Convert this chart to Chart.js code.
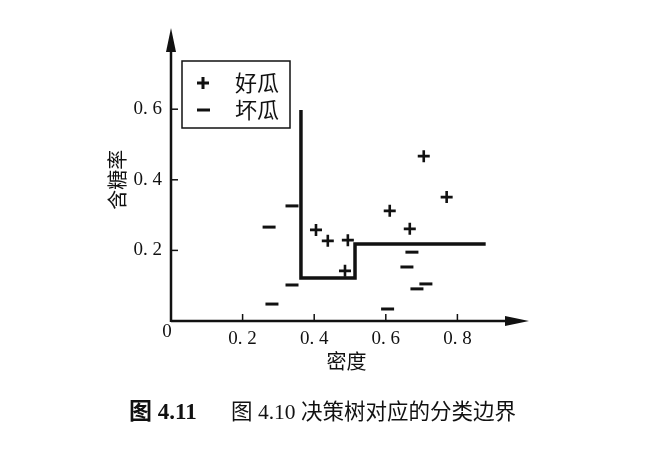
<!DOCTYPE html>
<html><head><meta charset="utf-8">
<script src="https://cdn.jsdelivr.net/npm/chart.js@4/dist/chart.umd.min.js"></script>
<style>html,body{margin:0;padding:0;background:#fff;}#wrap{width:667px;height:456px;position:relative;}</style>
</head><body><div id="wrap"><canvas id="c" width="667" height="456"></canvas></div>
<script>
const goodX = [0.405, 0.438, 0.494, 0.486, 0.611, 0.667, 0.706, 0.770];
const goodY = [0.258, 0.227, 0.229, 0.142, 0.312, 0.261, 0.467, 0.351];
const badX = [0.274, 0.338, 0.282, 0.338, 0.605, 0.673, 0.659, 0.687, 0.712];
const badY = [0.266, 0.326, 0.048, 0.102, 0.034, 0.195, 0.153, 0.091, 0.105];
const boundaryX = [0.363, 0.363, 0.514, 0.514, 0.879];
const boundaryY = [0.598, 0.122, 0.122, 0.218, 0.218];
const xTicks = [0.2, 0.4, 0.6, 0.8];
const xTickLabels = ['0. 2', '0. 4', '0. 6', '0. 8'];
const yTicks = [0.2, 0.4, 0.6];
const yTickLabels = ['0. 2', '0. 4', '0. 6'];
const legendLabels = ['好瓜', '坏瓜'];
const xTitle = '密度';
const yTitle = '含糖率';
const captionBold = '图 4.11';
const captionText = '图 4.10 决策树对应的分类边界';

const ink = '#111';
const serif = "'Liberation Serif', 'Noto Sans CJK SC', serif";
const cjk = "'Noto Sans CJK SC', sans-serif";

const toPts = (xs, ys) => xs.map((x, i) => ({x, y: ys[i]}));

const deco = {
  id: 'deco',
  beforeDatasetsDraw(chart) {
    const {ctx, chartArea: a, scales: {x, y}} = chart;
    const ox = x.getPixelForValue(0), oy = y.getPixelForValue(0);
    ctx.save();
    ctx.strokeStyle = ink; ctx.fillStyle = ink; ctx.lineWidth = 2.5;
    // axes
    ctx.beginPath(); ctx.moveTo(ox, oy); ctx.lineTo(a.right - 10, oy); ctx.stroke();
    ctx.beginPath(); ctx.moveTo(ox, oy + 1); ctx.lineTo(ox, a.top + 10); ctx.stroke();
    // arrowheads
    ctx.beginPath(); ctx.moveTo(a.right, oy); ctx.lineTo(a.right - 24, oy - 5); ctx.lineTo(a.right - 24, oy + 5); ctx.closePath(); ctx.fill();
    ctx.beginPath(); ctx.moveTo(ox, a.top); ctx.lineTo(ox - 5, a.top + 24); ctx.lineTo(ox + 5, a.top + 24); ctx.closePath(); ctx.fill();
    // inward ticks
    ctx.lineWidth = 1.5;
    xTicks.forEach(v => { const px = x.getPixelForValue(v); ctx.beginPath(); ctx.moveTo(px, oy); ctx.lineTo(px, oy - 7); ctx.stroke(); });
    yTicks.forEach(v => { const py = y.getPixelForValue(v); ctx.beginPath(); ctx.moveTo(ox, py); ctx.lineTo(ox + 7, py); ctx.stroke(); });
    // origin label
    ctx.font = '19px ' + serif; ctx.textAlign = 'center'; ctx.textBaseline = 'middle';
    ctx.fillText('0', ox - 4, oy + 11);
    // axis titles
    ctx.font = '20px ' + cjk;
    ctx.fillText(xTitle, x.getPixelForValue(0.49), oy + 40);
    ctx.save(); ctx.translate(ox - 54, y.getPixelForValue(0.40)); ctx.rotate(-Math.PI / 2);
    ctx.fillText(yTitle, 0, 0); ctx.restore();
    // legend box
    ctx.lineWidth = 1.5;
    ctx.strokeRect(182, 61, 108, 67);
    ctx.lineWidth = 3;
    ctx.beginPath(); ctx.moveTo(197, 83); ctx.lineTo(209, 83); ctx.moveTo(203, 77); ctx.lineTo(203, 89); ctx.stroke();
    ctx.beginPath(); ctx.moveTo(197, 110); ctx.lineTo(210, 110); ctx.stroke();
    ctx.font = '22px ' + cjk; ctx.textAlign = 'center';
    ctx.fillText(legendLabels[0], 257, 83);
    ctx.fillText(legendLabels[1], 257, 110);
    // caption
    ctx.textAlign = 'left';
    ctx.font = 'bold 23px ' + serif;
    ctx.fillText(captionBold, 129, 413);
    ctx.font = '21.5px ' + serif;
    ctx.fillText(captionText, 231, 413);
    ctx.restore();
  }
};

new Chart(document.getElementById('c'), {
  type: 'scatter',
  data: {
    datasets: [
      {label: legendLabels[0], data: toPts(goodX, goodY), pointStyle: 'cross', radius: 6, borderColor: ink, borderWidth: 2.6, pointHoverRadius: 6},
      {label: legendLabels[1], data: toPts(badX, badY), pointStyle: 'line', radius: 6.5, borderColor: ink, borderWidth: 3, pointHoverRadius: 6.5},
      {label: 'boundary', data: toPts(boundaryX, boundaryY), showLine: true, borderColor: ink, borderWidth: 3.5, pointRadius: 0, fill: false, tension: 0, borderJoinStyle: 'miter'}
    ]
  },
  options: {
    responsive: false, animation: false, events: [],
    layout: {padding: {left: 0, right: 138, top: 28, bottom: 0}},
    plugins: {legend: {display: false}, tooltip: {enabled: false}},
    scales: {
      x: {
        type: 'linear', min: 0, max: 1.0,
        grid: {display: false, drawTicks: false}, border: {display: false},
        afterBuildTicks: s => { s.ticks = xTicks.map(v => ({value: v})); },
        afterFit: s => { s.height = 135; },
        ticks: {padding: 7, color: ink, font: {family: serif, size: 19}, maxRotation: 0, autoSkip: false,
          callback: (v) => { const i = xTicks.indexOf(v); return i >= 0 ? xTickLabels[i] : ''; }}
      },
      y: {
        type: 'linear', min: 0, max: 0.83,
        grid: {display: false, drawTicks: false}, border: {display: false},
        afterBuildTicks: s => { s.ticks = yTicks.map(v => ({value: v})); },
        afterFit: s => { s.width = 171; },
        ticks: {padding: 9, color: ink, font: {family: serif, size: 19}, autoSkip: false,
          callback: (v) => { const i = yTicks.indexOf(v); return i >= 0 ? yTickLabels[i] : ''; }}
      }
    }
  },
  plugins: [deco]
});
</script>
</body></html>
